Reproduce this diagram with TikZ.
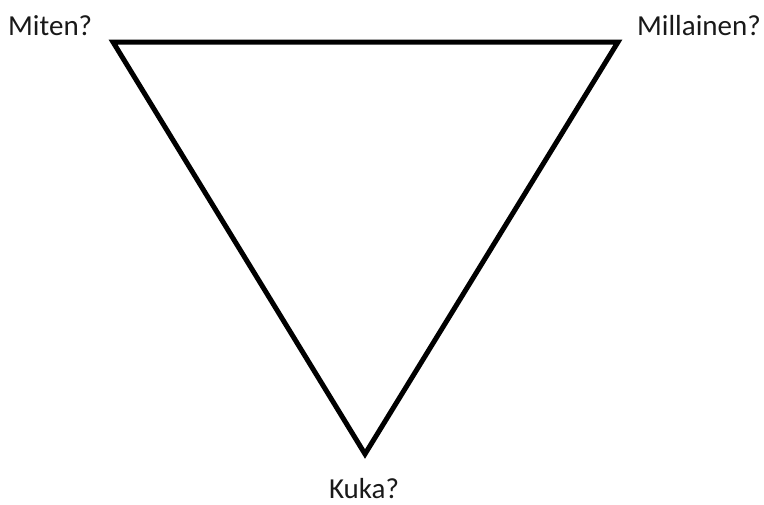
\documentclass[tikz,border=0pt]{standalone}
\usepackage{fontspec}
\setmainfont{Carlito}
\begin{document}
\begin{tikzpicture}[x=1pt,y=-1pt,
  edge/.style={line width=5pt, draw=black, line join=miter},
  lbl/.style={inner sep=0pt, text=black!90, font=\fontsize{29}{34}\selectfont}]
\useasboundingbox (0,0) rectangle (764,504);
\coordinate (tl) at (113,42);
\coordinate (tr) at (618,42);
\coordinate (bt) at (365,454);
\draw[edge] (tl) -- (tr) -- (bt) -- cycle;
\node[lbl, anchor=base west] (miten) at (8,35) {Miten?};
\node[lbl, anchor=base east] (millainen) at (761,35) {Millainen?};
\node[lbl, anchor=base] (kuka) at (364,498) {Kuka?};
\end{tikzpicture}
\end{document}
